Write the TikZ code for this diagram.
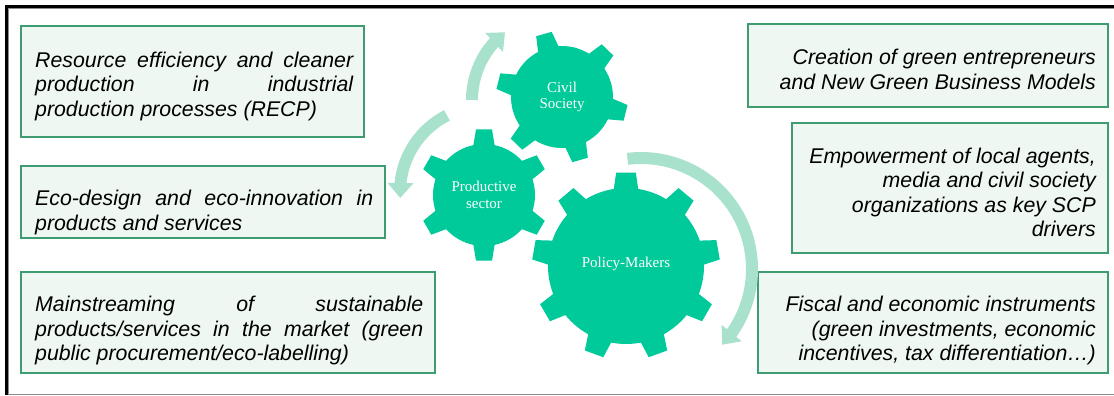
\documentclass[tikz,border=0pt]{standalone}
\usepackage{fontspec}
\setmainfont{Liberation Sans}
\newfontfamily\gearfont{Liberation Serif}
\usetikzlibrary{arrows.meta,bending}
\definecolor{gearc}{HTML}{00C99A}
\definecolor{arrc}{HTML}{A9E2CC}
\definecolor{boxfill}{HTML}{EEF7F1}
\definecolor{boxdraw}{HTML}{3E9C70}
\definecolor{framegray}{HTML}{8C8C8C}
% cx, cy, n, offset, body radius, outer radius, base half-angle, top half-angle
\newcommand{\mygear}[8]{%
  \pgfmathtruncatemacro\gearlast{#3-1}%
  \begin{scope}[shift={(#1,#2)}]
    \fill[gearc] ({#4-#7}:#5pt)
      \foreach \k in {0,...,\gearlast}{
        -- ({#4+\k*360/#3-#8}:#6pt) -- ({#4+\k*360/#3+#8}:#6pt)
        -- ({#4+\k*360/#3+#7}:#5pt)
        arc[start angle={#4+\k*360/#3+#7}, end angle={#4+(\k+1)*360/#3-#7}, radius=#5pt]
      } -- cycle;
  \end{scope}}
\begin{document}
\begin{tikzpicture}[x=1pt,y=-1pt,
  box/.style={draw=boxdraw, fill=boxfill, line width=2pt, inner sep=0pt, outer sep=0pt, anchor=north west},
  txt/.style={inner sep=0pt, font=\fontsize{21.3pt}{24.5pt}\selectfont\itshape},
  geartxt/.style={text=white, inner sep=0pt, align=center, font=\gearfont\fontsize{15pt}{16.5pt}\selectfont},
  cycarrow/.style={draw=arrc, line width=12pt, -{Triangle[width=25pt,length=15pt]}}]
\path[use as bounding box] (0,0) rectangle (1114,396);
% frame
\draw[framegray, line width=1pt] (1114,8.8) -- (8.8,8.8) -- (8.8,394);
\draw[framegray, line width=1.5pt] (6,394.3) -- (1114,394.3);
\draw[black, line width=3pt, line join=miter] (1114,6.5) -- (6.5,6.5) -- (6.5,394.5);
% left boxes
\node[box, minimum width=343pt, minimum height=111pt] (L1) at (21,26) {};
\node[box, minimum width=364pt, minimum height=72pt] (L2) at (21,166) {};
\node[box, minimum width=414pt, minimum height=101pt] (L3) at (21,272) {};
% right boxes
\node[box, minimum width=360pt, minimum height=83pt] (R1) at (748,24) {};
\node[box, minimum width=316pt, minimum height=130pt] (R2) at (792,123) {};
\node[box, minimum width=350pt, minimum height=101pt] (R3) at (758,272) {};
% left texts
\node[txt, anchor=base west] (L1t) at (35,67) {\begin{tabular}[t]{@{}l@{}}\makebox[318pt][s]{Resource efficiency and cleaner}\\ \makebox[318pt][s]{production in industrial}\\ production processes (RECP)\end{tabular}};
\node[txt, anchor=base west] (L2t) at (35,205.5) {\begin{tabular}[t]{@{}l@{}}\makebox[338pt][s]{Eco-design and eco-innovation in}\\ products and services\end{tabular}};
\node[txt, anchor=base west] (L3t) at (35,311.7) {\begin{tabular}[t]{@{}l@{}}\makebox[388pt][s]{Mainstreaming of sustainable}\\ \makebox[388pt][s]{products/services in the market (green}\\ public procurement/eco-labelling)\end{tabular}};
% right texts
\node[txt, anchor=base east] (R1t) at (1096,65) {\begin{tabular}[t]{@{}r@{}}Creation of green entrepreneurs\\ and New Green Business Models\end{tabular}};
\node[txt, anchor=base east] (R2t) at (1096,163.3) {\begin{tabular}[t]{@{}r@{}}Empowerment of local agents,\\ media and civil society\\ organizations as key SCP\\ drivers\end{tabular}};
\node[txt, anchor=base east] (R3t) at (1096,311.7) {\begin{tabular}[t]{@{}r@{}}Fiscal and economic instruments\\ (green investments, economic\\ incentives, tax differentiation\ldots)\end{tabular}};
% cycle arrows
\coordinate (cA) at (558,100);
\coordinate (cB) at (486,192);
\coordinate (cC) at (641,269);
\begin{scope}[shift={(cA)}]
  \draw[cycarrow] (180:86pt) arc[start angle=180, end angle=128, radius=86pt];
\end{scope}
\begin{scope}[shift={(cB)}]
  \draw[cycarrow] (117:86pt) arc[start angle=117, end angle=184, radius=86pt];
\end{scope}
\begin{scope}[shift={(cC)}]
  \draw[cycarrow] (97:111pt) arc[start angle=97, end angle=-43, radius=111pt];
\end{scope}
% gears
\mygear{562}{97}{6}{106}{51}{66}{12}{7}
\mygear{484}{195}{6}{90}{51}{66}{12}{7}
\mygear{626}{266}{9}{90}{78}{94}{9}{6}
\node[geartxt] (civil) at (562,97) {Civil\\Society};
\node[geartxt] (prod) at (484,195) {Productive\\sector};
\node[geartxt] (policy) at (626,264) {Policy-Makers};
\end{tikzpicture}
\end{document}
